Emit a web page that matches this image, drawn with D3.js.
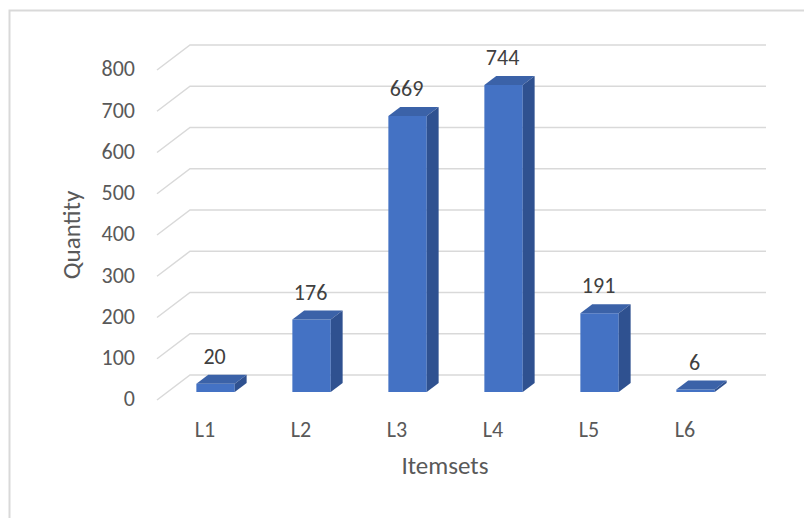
<!DOCTYPE html>
<html>
<head>
<meta charset="utf-8">
<style>
  html, body { margin: 0; padding: 0; background: #fff; }
  svg { display: block; }
  text { font-family: Carlito, Calibri, Lato, "Open Sans", sans-serif; }
</style>
</head>
<body>
<div id="chart"></div>
<script src="https://cdnjs.cloudflare.com/ajax/libs/d3/7.8.5/d3.min.js"></script>
<script>
  const categories = ["L1", "L2", "L3", "L4", "L5", "L6"];
  const quantities = [20, 176, 669, 744, 191, 6];
  const yTicks = [0, 100, 200, 300, 400, 500, 600, 700, 800];

  const WIDTH = 804, HEIGHT = 518;

  // floor / depth geometry of the fake 3d box
  const depthX = 33, depthY = -25;
  const barZ0 = 0.32, barZ1 = 0.68;

  const frontColor = "#4472c4";
  const topColor = "#3b62a8";
  const sideColor = "#2f5190";
  const gridColor = "#d9d9d9";

  const svg = d3.select("#chart").append("svg")
      .attr("width", WIDTH)
      .attr("height", HEIGHT);

  // chart border
  svg.append("rect")
      .attr("x", 9.5).attr("y", 10.5)
      .attr("width", 810).attr("height", 520)
      .attr("fill", "none")
      .attr("stroke", gridColor)
      .attr("stroke-width", 2);

  const x = d3.scaleBand()
      .domain(categories)
      .range([157, 733])
      .paddingInner(0.6)
      .paddingOuter(0.3);

  const y = d3.scaleLinear()
      .domain([0, 800])
      .range([400, 70]);

  proj = (px, py, z) => [px + z * depthX, py + z * depthY];

  const line = d3.line();

  // grid: left wall diagonal + back wall line
  const grid = svg.append("g")
      .attr("fill", "none")
      .attr("stroke", gridColor)
      .attr("stroke-width", 1.5);

  grid.selectAll("path")
      .data(yTicks)
      .join("path")
      .attr("d", t => line([
	  proj(x.range()[0], y(t), 0),
	  proj(x.range()[0], y(t), 1),
	  proj(x.range()[1], y(t), 1)
      ]));

  // tick labels
  svg.append("g")
      .selectAll("text")
      .data(yTicks)
      .join("text")
      .attr("x", 135)
      .attr("y", t => y(t) + 1)
      .attr("text-anchor", "end")
      .attr("dominant-baseline", "middle")
      .style("font-size", "22px")
      .style("fill", "#595959")
      .text(t => t);

  // bars
  const bars = svg.append("g")
      .selectAll("g")
      .data(categories.map((c, i) => ({ cat: c, value: quantities[i] })))
      .join("g");

  const bw = x.bandwidth();

  bars.append("path")
      .attr("fill", frontColor)
      .attr("d", d => {
	  const x0 = x(d.cat), x1 = x0 + bw;
	  return line([
	      proj(x0, y(0), barZ0), proj(x1, y(0), barZ0),
	      proj(x1, y(d.value), barZ0), proj(x0, y(d.value), barZ0)
	  ]) + "Z";
      });

  bars.append("path")
      .attr("fill", topColor)
      .attr("d", d => {
	  const x0 = x(d.cat), x1 = x0 + bw, yv = y(d.value);
	  return line([
	      proj(x0, yv, barZ0), proj(x1, yv, barZ0),
	      proj(x1, yv, barZ1), proj(x0, yv, barZ1)
	  ]) + "Z";
      });

  bars.append("path")
      .attr("fill", sideColor)
      .attr("d", d => {
	  const x1 = x(d.cat) + bw;
	  return line([
	      proj(x1, y(0), barZ0), proj(x1, y(0), barZ1),
	      proj(x1, y(d.value), barZ1), proj(x1, y(d.value), barZ0)
	  ]) + "Z";
      });

  // data labels
  bars.append("text")
      .attr("x", d => proj(x(d.cat) + bw / 2, 0, barZ0)[0] - 1)
      .attr("y", d => proj(0, y(d.value), barZ1)[1] - 16)
      .attr("text-anchor", "middle")
      .attr("dominant-baseline", "middle")
      .style("font-size", "22px")
      .style("fill", "#404040")
      .text(d => d.value);

  // category labels
  svg.append("g")
      .selectAll("text")
      .data(categories)
      .join("text")
      .attr("x", c => x(c) + bw / 2)
      .attr("y", 432)
      .attr("text-anchor", "middle")
      .attr("dominant-baseline", "middle")
      .style("font-size", "22px")
      .style("fill", "#595959")
      .text(c => c);

  // axis titles
  svg.append("text")
      .attr("x", (x.range()[0] + x.range()[1]) / 2)
      .attr("y", 468)
      .attr("text-anchor", "middle")
      .attr("dominant-baseline", "middle")
      .style("font-size", "25px")
      .style("fill", "#595959")
      .text("Itemsets");

  svg.append("text")
      .attr("transform", "translate(74,235) rotate(-90)")
      .attr("text-anchor", "middle")
      .attr("dominant-baseline", "middle")
      .style("font-size", "25px")
      .style("fill", "#595959")
      .text("Quantity");
</script>
</body>
</html>
